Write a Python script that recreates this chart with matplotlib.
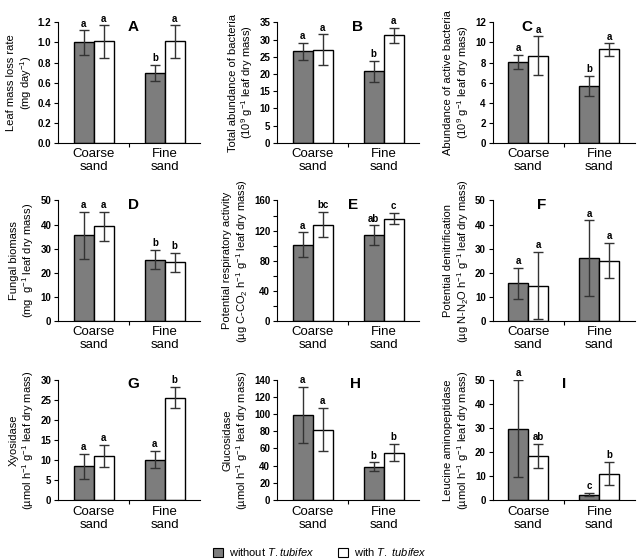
import matplotlib
matplotlib.use("Agg")
import matplotlib.pyplot as plt
import matplotlib.patches as mpatches
from matplotlib.ticker import MultipleLocator, FormatStrFormatter
import numpy as np

plt.rcParams["font.family"] = ["Liberation Sans", "DejaVu Sans"]
plt.rcParams["mathtext.fontset"] = "custom"
plt.rcParams["mathtext.rm"] = "Liberation Sans"
plt.rcParams["mathtext.it"] = "Liberation Sans:italic"
plt.rcParams["mathtext.bf"] = "Liberation Sans:bold"

# Datos por panel: (sin T. tubifex, con T. tubifex) para (arena gruesa, arena fina)
sites = ["Coarse\nsand", "Fine\nsand"]
panels = ["A", "B", "C", "D", "E", "F", "G", "H", "I"]

mean_without = [
    [1.00, 0.70], [26.6, 20.8], [8.1, 5.7],
    [35.6, 25.4], [101, 114], [15.6, 26.0],
    [8.4, 10.1], [99, 39], [29.6, 2.3],
]
err_without = [
    [0.12, 0.08], [2.5, 3.0], [0.7, 1.0],
    [9.8, 4.0], [16.5, 13.0], [6.5, 15.7],
    [3.2, 2.1], [32.7, 4.9], [20.2, 0.8],
]
mean_with = [
    [1.01, 1.01], [27.0, 31.2], [8.7, 9.3],
    [39.2, 24.3], [128, 136], [14.6, 25.0],
    [11.0, 25.5], [82, 55], [18.2, 11.0],
]
err_with = [
    [0.16, 0.16], [4.5, 2.2], [1.9, 0.6],
    [5.9, 4.0], [17.0, 7.0], [14.0, 7.3],
    [2.7, 2.6], [25.0, 10.0], [5.0, 4.8],
]
letters_without = [
    ["a", "b"], ["a", "b"], ["a", "b"],
    ["a", "b"], ["a", "ab"], ["a", "a"],
    ["a", "a"], ["a", "b"], ["a", "c"],
]
letters_with = [
    ["a", "a"], ["a", "a"], ["a", "a"],
    ["a", "b"], ["bc", "c"], ["a", "a"],
    ["a", "b"], ["a", "b"], ["ab", "b"],
]
y_max = [1.2, 35, 12, 50, 160, 50, 30, 140, 50]
y_step = [0.2, 5, 2, 10, 40, 10, 5, 20, 10]
y_minor = [None, None, None, None, 20, None, None, None, None]
y_fmt = ["%.1f", "%d", "%d", "%d", "%d", "%d", "%d", "%d", "%d"]

unit_enz = "(µmol h$^{-1}$ g$^{-1}$ leaf dry mass)"
ylabels = [
    "Leaf mass loss rate\n(mg day$^{-1}$)",
    "Total abundance of bacteria\n(10$^{9}$ g$^{-1}$ leaf dry mass)",
    "Abundance of active bacteria\n(10$^{9}$ g$^{-1}$ leaf dry mass)",
    "Fungal biomass\n(mg  g$^{-1}$ leaf dry mass)",
    "Potential respiratory activity\n(µg C-CO$_2$ h$^{-1}$ g$^{-1}$ leaf dry mass)",
    "Potential denitrification\n(µg N-N$_2$O h$^{-1}$ g$^{-1}$ leaf dry mass)",
    "Xyosidase\n" + unit_enz,
    "Glucosidase\n" + unit_enz,
    "Leucine aminopeptidase\n" + unit_enz,
]
letter_x = [0.49, 0.53, 0.20, 0.49, 0.50, 0.31, 0.49, 0.51, 0.49]

DARK = "#7d7d7d"
W = 0.28

fig = plt.figure(figsize=(6.4, 5.6), dpi=100)

lefts = [0.091, 0.433, 0.770]
bottoms = [0.745, 0.427, 0.107]
aw, ah = 0.222, 0.215

x = np.arange(len(sites))
for i, p in enumerate(panels):
    r, c = divmod(i, 3)
    ax = fig.add_axes([lefts[c], bottoms[r], aw, ah])
    ekw = dict(ecolor="#333333", elinewidth=1.0, capsize=3.5, capthick=1.0)
    ax.bar(x - W / 2, mean_without[i], W, yerr=err_without[i], color=DARK,
           edgecolor="black", linewidth=1.0, error_kw=ekw)
    ax.bar(x + W / 2, mean_with[i], W, yerr=err_with[i], color="white",
           edgecolor="black", linewidth=1.0, error_kw=ekw)

    off = y_max[i] * 0.015
    for j in range(len(sites)):
        ax.text(x[j] - W / 2, mean_without[i][j] + err_without[i][j] + off,
                letters_without[i][j], ha="center", va="bottom",
                fontsize=7, fontweight="bold")
        ax.text(x[j] + W / 2, mean_with[i][j] + err_with[i][j] + off,
                letters_with[i][j], ha="center", va="bottom",
                fontsize=7, fontweight="bold")

    ax.set_xlim(-0.5, 1.5)
    ax.set_ylim(0, y_max[i])
    ax.yaxis.set_major_locator(MultipleLocator(y_step[i]))
    if y_minor[i]:
        ax.yaxis.set_minor_locator(MultipleLocator(y_minor[i]))
        ax.tick_params(axis="y", which="minor", length=3, width=0.8)
    ax.yaxis.set_major_formatter(FormatStrFormatter(y_fmt[i]))

    ax.set_xticks(x)
    ax.set_xticklabels(sites, fontsize=9.5, linespacing=1.1)
    ax.tick_params(axis="x", length=0, pad=4)
    ax.set_xticks([0.5], minor=True)
    ax.tick_params(axis="x", which="minor", length=3, width=0.8)
    ax.tick_params(axis="y", length=3, width=0.8, labelsize=7, pad=2)
    for lab in ax.get_yticklabels():
        lab.set_fontweight("bold")

    for s in ["top", "right"]:
        ax.spines[s].set_visible(False)
    ax.spines["left"].set_linewidth(0.8)
    ax.spines["bottom"].set_linewidth(0.8)

    ax.set_ylabel(ylabels[i], fontsize=8, linespacing=1.15, labelpad=3)
    ax.text(letter_x[i], 0.96, p, transform=ax.transAxes, ha="left",
            va="center", fontsize=11, fontweight="bold")

handles = [
    mpatches.Patch(facecolor=DARK, edgecolor="black", linewidth=0.8,
                   label="without $\\it{T.tubifex}$"),
    mpatches.Patch(facecolor="white", edgecolor="black", linewidth=0.8,
                   label="with $\\it{T.\\ tubifex}$"),
]
fig.legend(handles=handles, loc="center", bbox_to_anchor=(0.5, 0.014),
           ncol=2, frameon=False, fontsize=8, handlelength=0.9,
           handleheight=0.9, columnspacing=2.2, handletextpad=0.5,
           borderpad=0.1)

fig.savefig("out.png", dpi=100)
